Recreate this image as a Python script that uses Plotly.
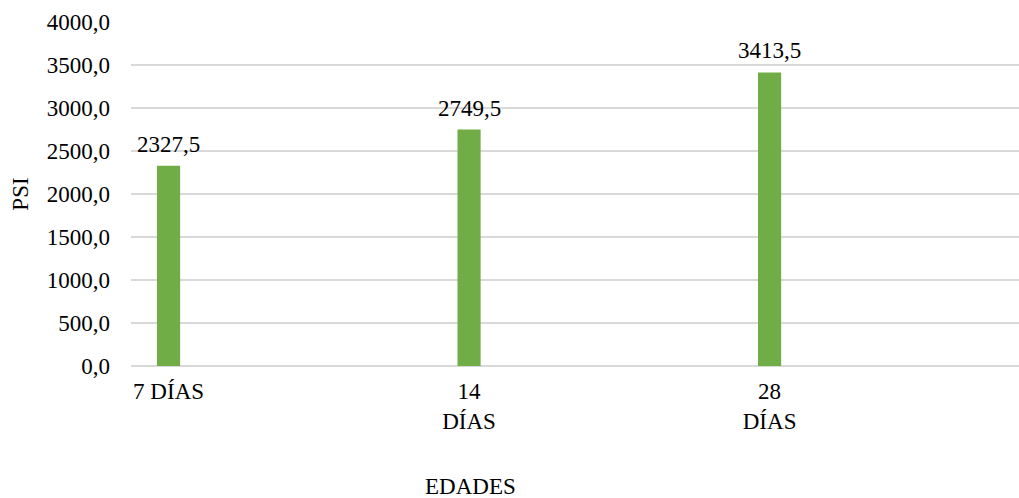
import plotly.graph_objects as go

categories = ["7 DÍAS", "14<br>DÍAS", "28<br>DÍAS"]
positions = [0, 1, 2]
psi_values = [2327.5, 2749.5, 3413.5]
y_ticks = [0, 500, 1000, 1500, 2000, 2500, 3000, 3500, 4000]

FONT = "Liberation Serif"
FS = 23

fig = go.Figure()
fig.add_trace(go.Bar(
    x=positions, y=psi_values, width=0.077,
    marker=dict(color="#70ad47", line=dict(width=0)),
    hoverinfo="skip",
))

for xv, yv in zip(positions, psi_values):
    fig.add_annotation(
        x=xv, y=yv, text=f"{yv:.1f}".replace(".", ","),
        showarrow=False, yanchor="bottom", yshift=7,
        font=dict(family=FONT, size=FS, color="#000000"),
    )

fig.add_annotation(
    xref="paper", yref="paper", x=(470 - 131) / 888, y=-0.35,
    text="EDADES", showarrow=False, xanchor="center", yanchor="middle",
    font=dict(family=FONT, size=FS, color="#000000"),
)

fig.update_layout(
    width=1019, height=498,
    margin=dict(l=131, r=0, t=22, b=132),
    paper_bgcolor="white", plot_bgcolor="white",
    separators=",.",
    showlegend=False,
    font=dict(family=FONT, size=FS, color="#000000"),
    xaxis=dict(
        range=[-0.125, 2.83],
        tickmode="array", tickvals=positions, ticktext=categories,
        showgrid=False, zeroline=False, showline=False, ticks="",
        ticklabelstandoff=9,
        tickfont=dict(family=FONT, size=FS, color="#000000"),
    ),
    yaxis=dict(
        range=[0, 4000], tickmode="array", tickvals=y_ticks,
        tickformat=".1f",
        showgrid=True, gridcolor="#d9d9d9", gridwidth=1.5,
        zeroline=True, zerolinecolor="#d9d9d9", zerolinewidth=1.5,
        showline=False, ticks="", ticklabelstandoff=20,
        tickfont=dict(family=FONT, size=FS, color="#000000"),
        title=dict(text="PSI", standoff=11,
                   font=dict(family=FONT, size=FS, color="#000000")),
    ),
)

fig.write_html("out.html")
